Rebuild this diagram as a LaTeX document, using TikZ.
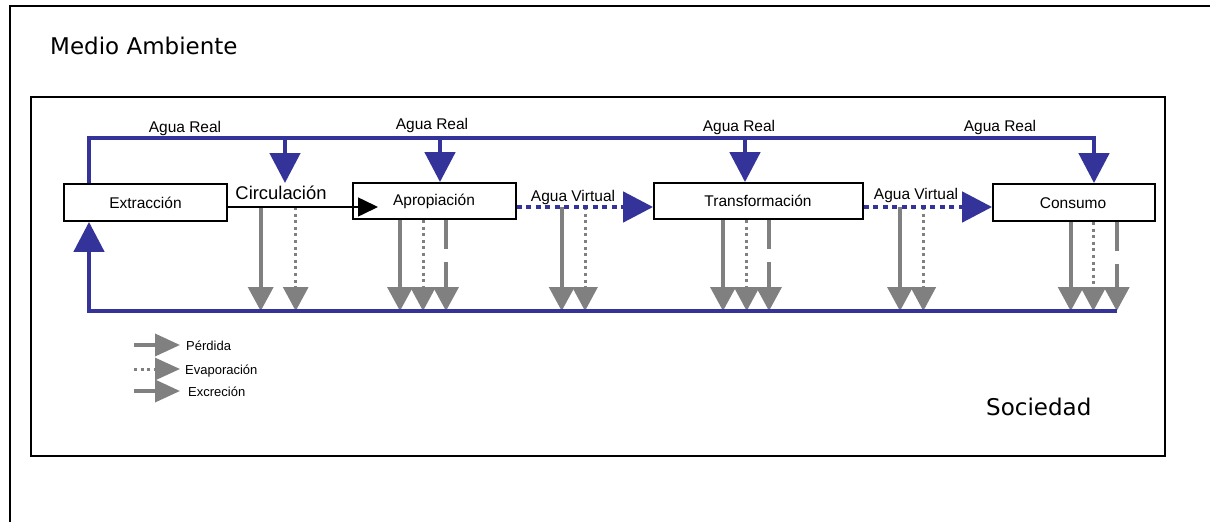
\documentclass[tikz,border=0pt]{standalone}
\usepackage{fontspec}
\setmainfont{Liberation Sans}
\newfontfamily\titlefont{DejaVu Sans}
\usetikzlibrary{arrows.meta}
\definecolor{wblue}{RGB}{51,51,153}
\definecolor{wgray}{RGB}{128,128,128}
\begin{document}
\begin{tikzpicture}[x=1pt,y=-1pt,
  frame/.style={draw=black,line width=2pt},
  box/.style={draw=black,line width=1.8pt,fill=white,inner sep=0pt},
  lbl/.style={anchor=base,inner sep=0pt,font=\fontsize{15.5}{18}\selectfont},
  leglbl/.style={anchor=base west,inner sep=0pt,font=\fontsize{13}{15}\selectfont},
  title/.style={anchor=base west,inner sep=0pt,font=\titlefont\fontsize{23}{27}\selectfont},
  bluel/.style={draw=wblue,line width=4.7pt},
  bluearr/.style={bluel,-{Triangle[length=30pt,width=30pt]}},
  bluedot/.style={bluearr,dash pattern=on 5pt off 4.5pt},
  grayarr/.style={draw=wgray,line width=3.6pt,-{Triangle[length=24pt,width=25pt]}},
  graysolid/.style={grayarr},
  graydot/.style={grayarr,line width=3pt,dash pattern=on 3pt off 3.6pt},
  graydash/.style={grayarr,dash pattern=on 29pt off 13pt},
  legarr/.style={draw=wgray,line width=3.6pt,-{Triangle[length=25pt,width=22pt]}},
  blackarr/.style={draw=black,line width=1.6pt,-{Triangle[length=20pt,width=19pt]}}
]
\useasboundingbox (0,0) rectangle (1210,522);
\fill[white] (0,0) rectangle (1210,522);

% frames
\draw[frame] (10,522) -- (10,6) -- (1210,6);
\draw[frame] (31,97) rectangle (1165,456);
\node[title] (medio) at (50,54) {Medio Ambiente};
\node[title] (soc) at (986,415) {Sociedad};

% boxes (shapes)
\node[box,minimum width=163pt,minimum height=37pt] (ext) at (145.5,202.5) {};
\node[box,minimum width=163pt,minimum height=36pt] (apro) at (434.5,201) {};
\node[box,minimum width=209pt,minimum height=36pt] (trans) at (758.5,201) {};
\node[box,minimum width=162pt,minimum height=37pt] (cons) at (1074,202.5) {};

% box labels
\node[lbl] (extl) at (145.5,208.3) {Extracción};
\node[lbl] (aprol) at (434,205) {Apropiación};
\node[lbl] (transl) at (758,206) {Transformación};
\node[lbl] (consl) at (1073,208) {Consumo};
\node[lbl,font=\fontsize{18.4}{21}\selectfont] (circ) at (281,199) {Circulación};

% coordinates
\coordinate (tl) at (89,138);
\coordinate (tr) at (1094,138);
\coordinate (t1) at (285,138);
\coordinate (t2) at (440,138);
\coordinate (t3) at (745,138);
\coordinate (bl) at (89,311);
\coordinate (br) at (1117,311);
\coordinate (circtip) at (285,183);
\coordinate (c0) at (0,207);
\coordinate (blacktip) at (378,207);

% Agua Real labels
\node[lbl] (ar1) at (185,132) {Agua Real};
\node[lbl] (ar2) at (432,129.3) {Agua Real};
\node[lbl] (ar3) at (739,131) {Agua Real};
\node[lbl] (ar4) at (1000,131) {Agua Real};
\node[lbl] (av1) at (573,201) {Agua Virtual};
\node[lbl] (av2) at (916,199) {Agua Virtual};

% gray loss arrows
\foreach \x/\s in {260.7/graysolid,295.7/graydot,561.7/graysolid,585/graydot,900/graysolid,923.3/graydot}
  \draw[\s] (\x,207) -- (\x,311);
\foreach \x/\s in {400/graysolid,423/graydot,446/graydash}
  \draw[\s] (apro.south -| \x,0) -- (\x,311);
\foreach \x/\s in {723/graysolid,746.7/graydot,769/graydash}
  \draw[\s] (trans.south -| \x,0) -- (\x,311);
\foreach \x/\s in {1070.7/graysolid,1093.3/graydot,1116.7/graydash}
  \draw[\s] (cons.south -| \x,0) -- (\x,311);

% blue real water flow
\draw[bluearr] (ext.north -| tl) -- (tl) -- (tr) -- (cons.north -| tr);
\draw[bluearr] (t1) -- (circtip);
\draw[bluearr] (t2) -- (apro.north -| t2);
\draw[bluearr] (t3) -- (trans.north -| t3);
\draw[bluearr] (br) -- (bl) -- (ext.south -| bl);

% black circulation arrow
\draw[blackarr] (ext.east |- c0) -- (blacktip);

% virtual water
\draw[bluedot] (apro.east |- c0) -- (trans.west |- c0);
\draw[bluedot] (trans.east |- c0) -- (cons.west |- c0);

% legend
\coordinate (lg1) at (134,345);
\coordinate (lg2) at (134,369);
\coordinate (lg3) at (134,391);
\draw[legarr] (lg1) -- ++(46,0);
\draw[legarr,line width=3pt,dash pattern=on 3pt off 3.6pt] (lg2) -- ++(46,0);
\draw[legarr] (lg3) -- ++(46,0);
\node[leglbl] (p1) at (186,350) {Pérdida};
\node[leglbl] (p2) at (185,374) {Evaporación};
\node[leglbl] (p3) at (188,396) {Excreción};
\end{tikzpicture}
\end{document}
